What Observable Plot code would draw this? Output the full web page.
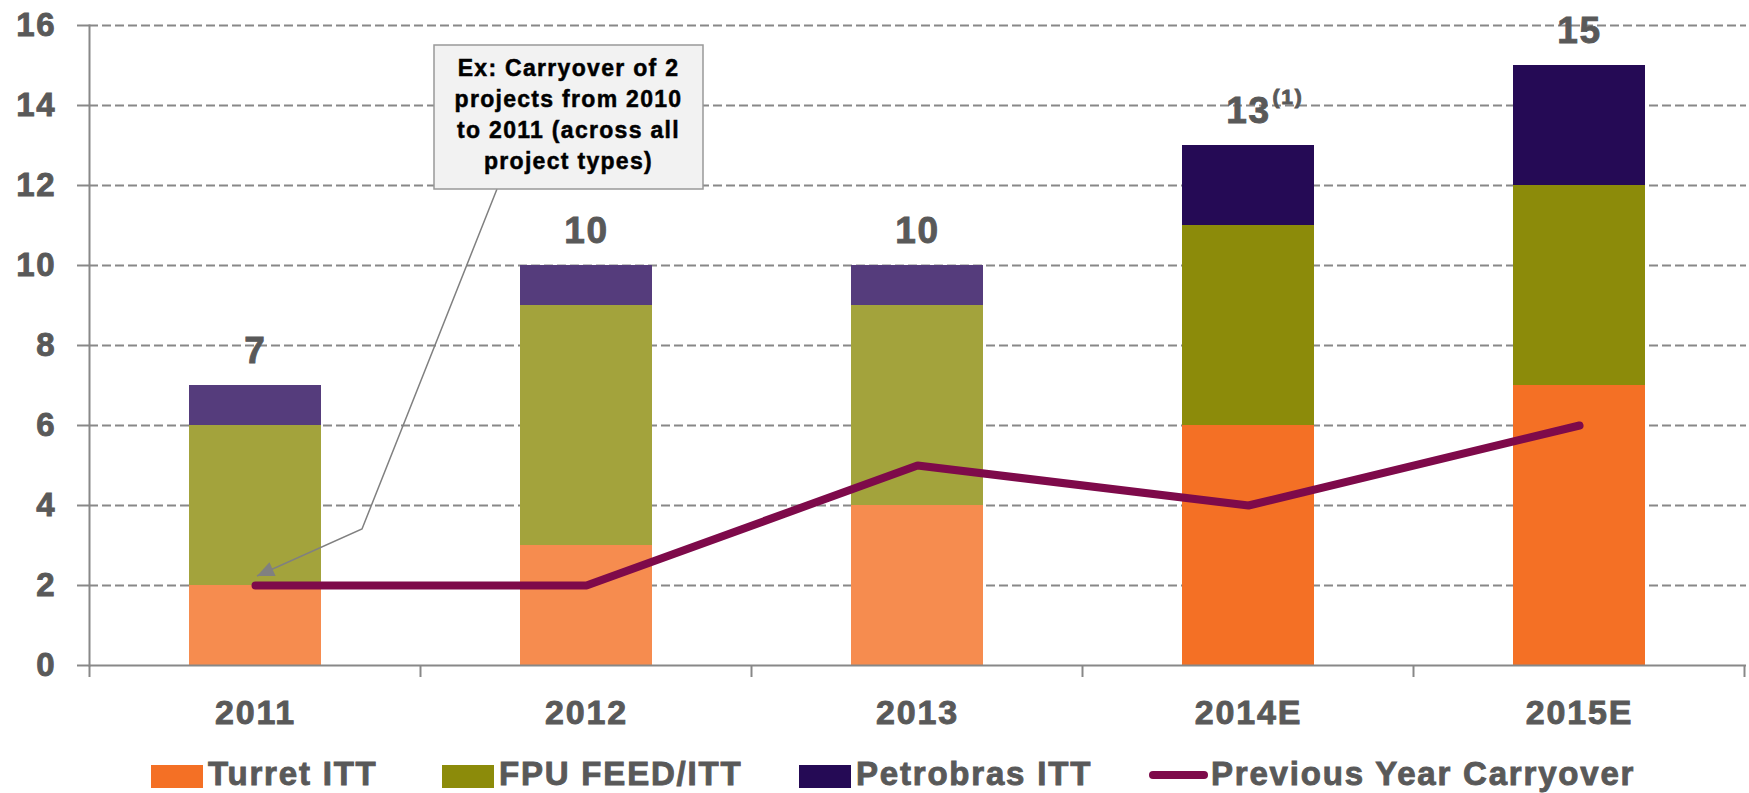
<!DOCTYPE html>
<html><head><meta charset="utf-8">
<script src="https://cdn.jsdelivr.net/npm/d3@7"></script>
<script src="https://cdn.jsdelivr.net/npm/@observablehq/plot@0.6"></script>
<style>
html,body{margin:0;padding:0;background:#fff;overflow:hidden;}
#chart svg text, #legend text{letter-spacing:1.8px; stroke:#595959; stroke-width:0.9px; paint-order:stroke;}
#chart svg text.ann{stroke:#000; stroke-width:0.5px; letter-spacing:1.3px;}
</style></head><body><div id="chart"></div><div id="legend"></div><script>
// ---- data ----
const categories = ["2011", "2012", "2013", "2014E", "2015E"];
const turretITT = [2, 3, 4, 6, 7];
const fpuFeedITT = [4, 6, 5, 5, 5];
const petrobrasITT = [1, 1, 1, 2, 3];
const previousYearCarryover = [2, 2, 5, 4, 6];
const isEstimate = [false, false, false, true, true];
const totalNotes = ["", "", "", "(1)", ""];
const yTicks = [0, 2, 4, 6, 8, 10, 12, 14, 16];
const seriesNames = ["Turret ITT", "FPU FEED/ITT", "Petrobras ITT"];
const lineName = "Previous Year Carryover";
const annotationLines = ["Ex: Carryover of 2", "projects from 2010", "to 2011 (across all", "project types)"];

// ---- styles ----
const seriesColors = {
  "Turret ITT": {actual: "#F68C4F", estimate: "#F47025"},
  "FPU FEED/ITT": {actual: "#A3A33C", estimate: "#8C8B0A"},
  "Petrobras ITT": {actual: "#553C7C", estimate: "#250A55"}
};
const lineColor = "#7E0A4A";
const axisGray = "#888888";
const textGray = "#595959";
const FONT = "'Liberation Sans', Arial, Helvetica, sans-serif";

const seriesValues = [turretITT, fpuFeedITT, petrobrasITT];
const rows = [];
categories.forEach((c, i) => {
  seriesNames.forEach((s, k) => {
    rows.push({category: c, series: s, value: seriesValues[k][i],
      fill: seriesColors[s][isEstimate[i] ? "estimate" : "actual"]});
  });
});
const totals = categories.map((c, i) => turretITT[i] + fpuFeedITT[i] + petrobrasITT[i]);
const totalRows = categories.map((c, i) => ({category: c, total: totals[i], note: totalNotes[i]}));
const lineRows = categories.map((c, i) => ({category: c, value: previousYearCarryover[i]}));

const W = 1749, H = 750;
const chart = Plot.plot({
  width: W, height: H,
  marginLeft: 89, marginRight: 3, marginTop: 25, marginBottom: 85,
  style: {fontFamily: FONT, fontWeight: "bold", background: "#fff", overflow: "visible"},
  x: {domain: categories, paddingInner: 0.6, paddingOuter: 0.3, label: null},
  y: {domain: [0, 16], label: null},
  color: {type: "identity"},
  marks: [
    Plot.gridY(yTicks.filter(d => d > 0), {stroke: axisGray, strokeOpacity: 1, strokeWidth: 2, strokeDasharray: "9,4"}),
    Plot.axisY(yTicks, {tickSize: 12, tickPadding: 21, stroke: axisGray, strokeWidth: 2, fill: textGray,
      fontSize: 33, fontWeight: "bold", label: null}),
    Plot.axisX({tickSize: 0, tickPadding: 34, fill: textGray, fontSize: 34, fontWeight: "bold", label: null}),
    Plot.barY(rows, {x: "category", y: "value", fill: "fill"}),
    Plot.frame({anchor: "left", stroke: axisGray, strokeWidth: 2}),
    Plot.ruleY([0], {stroke: axisGray, strokeWidth: 2}),
    Plot.line(lineRows, {x: "category", y: "value", stroke: lineColor, strokeWidth: 8,
      strokeLinecap: "round", strokeLinejoin: "miter"}),
    Plot.text(totalRows, {x: "category", y: "total", text: d => String(d.total), dy: -34,
      lineAnchor: "middle", fontSize: 37, fontWeight: "bold", fill: textGray}),
    Plot.text(totalRows.filter(d => d.note), {x: "category", y: "total", text: "note", dx: 24, dy: -48,
      textAnchor: "start", lineAnchor: "middle", fontSize: 21, fontWeight: "bold", fill: textGray})
  ]
});
document.getElementById("chart").appendChild(chart);

// ---- category boundary ticks & annotation, placed through the plot's scales ----
const svg = d3.select(chart);
const xs = chart.scale("x"), ys = chart.scale("y");
const step = xs.step ?? ((xs.range[1] - xs.range[0]) / categories.length);
const bw = xs.bandwidth ?? step * 0.4;
const y0 = ys.apply(0);
const bounds = categories.map(c => xs.apply(c) - (step - bw) / 2);
bounds.push(bounds[bounds.length - 1] + step);
svg.append("g").selectAll("line").data(bounds).join("line")
  .attr("x1", d => d).attr("x2", d => d).attr("y1", y0).attr("y2", y0 + 12)
  .attr("stroke", axisGray).attr("stroke-width", 2);

const cx = xs.apply(categories[0]) + bw / 2;
const tip = [cx + 2, ys.apply(previousYearCarryover[0]) - 9];
const elbow = [cx + 107, ys.apply(3.4)];
const boxL = cx + 179, boxR = cx + 448, boxT = ys.apply(15.5), boxB = ys.apply(11.9);
const attach = [cx + 242, boxB];
const ann = svg.append("g");
ann.append("polyline").attr("points", [attach, elbow, tip].map(p => p.join(",")).join(" "))
  .attr("fill", "none").attr("stroke", "#808080").attr("stroke-width", 1.5);
const ang = Math.atan2(tip[1] - elbow[1], tip[0] - elbow[0]);
const L = 17, hw = 7.5;
const base = [tip[0] - L * Math.cos(ang), tip[1] - L * Math.sin(ang)];
const p1 = [base[0] + hw * Math.sin(ang), base[1] - hw * Math.cos(ang)];
const p2 = [base[0] - hw * Math.sin(ang), base[1] + hw * Math.cos(ang)];
ann.append("polygon").attr("points", [tip, p1, p2].map(p => p.join(",")).join(" ")).attr("fill", "#808080");
ann.append("rect").attr("x", boxL).attr("y", boxT).attr("width", boxR - boxL).attr("height", boxB - boxT)
  .attr("fill", "#F2F2F2").attr("stroke", "#999999").attr("stroke-width", 1.5);
ann.selectAll("text.ann").data(annotationLines).join("text").attr("class", "ann")
  .attr("x", (boxL + boxR) / 2).attr("y", (d, i) => boxT + 31 + i * 31)
  .attr("text-anchor", "middle").attr("font-size", 23).attr("font-weight", "bold")
  .attr("fill", "#000").text(d => d);

// ---- legend ----
const legendItems = [
  {name: seriesNames[0], kind: "rect", color: seriesColors[seriesNames[0]].estimate, x: 151},
  {name: seriesNames[1], kind: "rect", color: seriesColors[seriesNames[1]].estimate, x: 442},
  {name: seriesNames[2], kind: "rect", color: seriesColors[seriesNames[2]].estimate, x: 799},
  {name: lineName, kind: "line", color: lineColor, x: 1149}
];
const lg = d3.select("#legend").append("svg").attr("width", W).attr("height", 43)
  .style("display", "block").style("font-family", FONT);
legendItems.forEach(it => {
  if (it.kind === "rect") {
    lg.append("rect").attr("x", it.x).attr("y", 15).attr("width", 52).attr("height", 23).attr("fill", it.color);
  } else {
    lg.append("line").attr("x1", it.x + 4).attr("x2", it.x + 55).attr("y1", 25).attr("y2", 25)
      .attr("stroke", it.color).attr("stroke-width", 8).attr("stroke-linecap", "round");
  }
  lg.append("text").attr("x", it.x + (it.kind === "rect" ? 57 : 62)).attr("y", 35)
    .attr("font-size", 33).attr("font-weight", "bold").attr("fill", textGray).text(it.name);
});
</script></body></html>
